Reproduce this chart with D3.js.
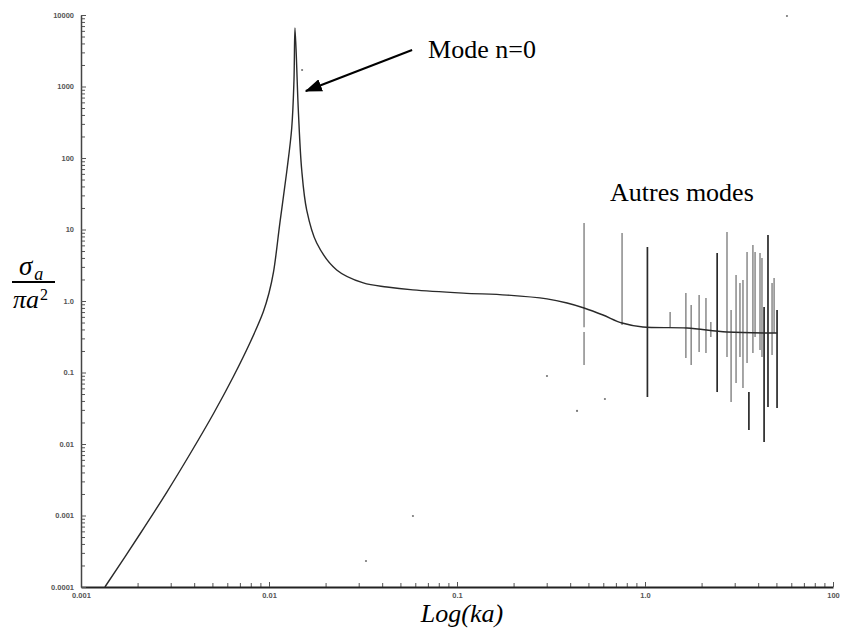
<!DOCTYPE html>
<html><head><meta charset="utf-8">
<script src="https://cdn.jsdelivr.net/npm/d3@7"></script>
<style>body{margin:0;background:#fff}svg{display:block}</style>
</head><body><svg id="c" width="845" height="632"></svg>
<script>
// ---- data ----
const curveKa = [0.00134,0.002059,0.002857,0.0038,0.005053,0.006458,0.007923,0.009326,0.01,0.01057,0.01144,0.01242,0.01321,0.01358,0.01375,0.01432,0.01493,0.01587,0.01794,0.02291,0.03174,0.0424,0.0583,0.1077,0.1845,0.301,0.385,0.474,0.598,0.755,0.975,1.67,2.73,5.04];
const curveSigma = [0.0001,0.000551,0.002109,0.007244,0.0263,0.0873,0.261,0.708,1.294,2.546,12.7,63.7,263,1233,6577,469,67.9,18.7,6.47,2.72,1.79,1.57,1.43,1.29,1.21,1.07,0.937,0.798,0.637,0.492,0.433,0.419,0.368,0.357];
const modeKa   = [0.474,0.474,0.755,1.03,1.36,1.65,1.76,1.94,2.11,2.24,2.42,2.73,2.87,3.05,3.20,3.32,3.49,3.57,3.75,3.85,4.09,4.19,4.30,4.51,4.74,4.86,5.04];
const modeHigh = [12.3,0.368,8.93,5.69,0.701,1.29,0.879,1.21,1.10,0.508,4.69,9.23,0.748,2.31,1.79,1.97,4.84,0.0533,6.07,4.84,4.69,3.99,0.824,8.37,1.79,2.10,0.748];
const modeLow  = [0.43,0.127,0.461,0.0454,0.433,0.160,0.127,0.194,0.187,0.314,0.0533,0.165,0.0387,0.0713,0.165,0.0607,0.136,0.0157,0.187,0.314,0.207,0.165,0.0107,0.0329,0.176,0.357,0.0319];
const dotKa    = [0.0328,0.0583,0.301,0.435,0.612,0.0150,5.69];
const dotSigma = [0.000231,0.000984,0.0893,0.0290,0.0426,1702,9680];
const xTickValues = [0.001,0.01,0.1,1,10];
const xTickLabels = ["0.001","0.01","0.1","1.0","100"];
const yTickValues = [0.0001,0.001,0.01,0.1,1,10,100,1000,10000];
const yTickLabels = ["0.0001","0.001","0.01","0.1","1.0","10","100","1000","10000"];
const peakNote = {text:"Mode n=0", tipKa:0.0157, tipSigma:865, tailKa:0.0577, tailSigma:3240};
const otherNote = {text:"Autres modes", ka:0.652, sigma:27.6};

// ---- drawing ----
const svg = d3.select("#c");
const x = d3.scaleLog().domain([0.001,10]).range([81,833]);
const y = d3.scaleLog().domain([0.0001,10000]).range([587,15]);

function minors(lo, hi){ const a=[]; for(let d=lo; d<=hi; d++) for(let k=2;k<=9;k++) a.push(k*Math.pow(10,d)); return a; }

// x axis
const gxm = svg.append("g").attr("transform","translate(0,587)")
  .call(d3.axisBottom(x).tickValues(minors(-3,0)).tickSize(-4).tickSizeOuter(0).tickFormat(""));
gxm.select(".domain").remove();
const gx = svg.append("g").attr("transform","translate(0,587)")
  .call(d3.axisBottom(x).tickValues(xTickValues).tickSize(-5).tickSizeOuter(0).tickPadding(6)
    .tickFormat((d,i)=>xTickLabels[i]));
// y axis
const gym = svg.append("g").attr("transform","translate(81,0)")
  .call(d3.axisLeft(y).tickValues(minors(-4,3)).tickSize(-4).tickSizeOuter(0).tickFormat(""));
gym.select(".domain").remove();
const gy = svg.append("g").attr("transform","translate(81,0)")
  .call(d3.axisLeft(y).tickValues(yTickValues).tickSize(-5).tickSizeOuter(0).tickPadding(7)
    .tickFormat((d,i)=>yTickLabels[i]));

svg.selectAll(".tick line").attr("stroke","#555").attr("stroke-width",1);
gx.select(".domain").attr("stroke","#222").attr("stroke-width",2.2);
gy.select(".domain").attr("stroke","#444").attr("stroke-width",1.5);
svg.selectAll(".tick text").attr("font-family","Liberation Sans, Arial, sans-serif")
  .attr("font-size",7.5).attr("font-weight","bold").attr("fill","#555");

// mode lines
const darkModes = new Set([3,10,17,22,23,26]);
svg.append("g").selectAll("line").data(modeKa).join("line")
  .attr("x1",d=>x(d)).attr("x2",d=>x(d))
  .attr("y1",(d,i)=>y(modeHigh[i])).attr("y2",(d,i)=>y(modeLow[i]))
  .attr("stroke",(d,i)=>darkModes.has(i)?"#2a2a2a":"#777")
  .attr("stroke-width",(d,i)=>darkModes.has(i)?1.7:1.3);

// main curve
const pts = curveKa.map((k,i)=>[k,curveSigma[i]]);
svg.append("path").datum(pts)
  .attr("d", d3.line().x(d=>x(d[0])).y(d=>y(d[1])).curve(d3.curveCatmullRom.alpha(0.5)))
  .attr("fill","none").attr("stroke","#2a2a2a").attr("stroke-width",1.4).attr("stroke-linejoin","round");

// isolated dots
svg.append("g").selectAll("circle").data(dotKa).join("circle")
  .attr("cx",d=>x(d)).attr("cy",(d,i)=>y(dotSigma[i])).attr("r",1.1).attr("fill","#777");

// annotation arrow
svg.append("defs").append("marker").attr("id","ah").attr("markerUnits","userSpaceOnUse")
  .attr("viewBox","0 0 16 12").attr("refX",15).attr("refY",6)
  .attr("markerWidth",17).attr("markerHeight",13).attr("orient","auto")
  .append("path").attr("d","M0,0L16,6L0,12Z").attr("fill","#000");
svg.append("line")
  .attr("x1",x(peakNote.tailKa)).attr("y1",y(peakNote.tailSigma))
  .attr("x2",x(peakNote.tipKa)).attr("y2",y(peakNote.tipSigma))
  .attr("stroke","#000").attr("stroke-width",2).attr("marker-end","url(#ah)");
svg.append("text").attr("x",x(peakNote.tailKa)+16).attr("y",y(peakNote.tailSigma)+8)
  .attr("font-family","Liberation Serif, serif").attr("font-size",26).attr("fill","#000")
  .text(peakNote.text);
svg.append("text").attr("x",x(otherNote.ka)).attr("y",y(otherNote.sigma)+3)
  .attr("font-family","Liberation Serif, serif").attr("font-size",26).attr("fill","#000")
  .text(otherNote.text);

// axis titles
const ylab = svg.append("g").attr("font-family","Liberation Serif, serif").attr("fill","#000");
const num = ylab.append("text").attr("x",19).attr("y",275).attr("font-size",27).attr("font-style","italic");
num.append("tspan").text("σ");
num.append("tspan").attr("dx",2).attr("dy",5).attr("font-size",18).text("a");
ylab.append("line").attr("x1",12).attr("x2",55).attr("y1",282).attr("y2",282).attr("stroke","#000").attr("stroke-width",2);
const den = ylab.append("text").attr("x",13).attr("y",308).attr("font-size",26).attr("font-style","italic");
den.append("tspan").text("πa");
den.append("tspan").attr("dx",1).attr("dy",-8).attr("font-size",16).attr("font-style","normal").text("2");

svg.append("text").attr("x",462).attr("y",622).attr("text-anchor","middle")
  .attr("font-family","Liberation Serif, serif").attr("font-style","italic").attr("font-size",26)
  .text("Log(ka)");
</script></body></html>
